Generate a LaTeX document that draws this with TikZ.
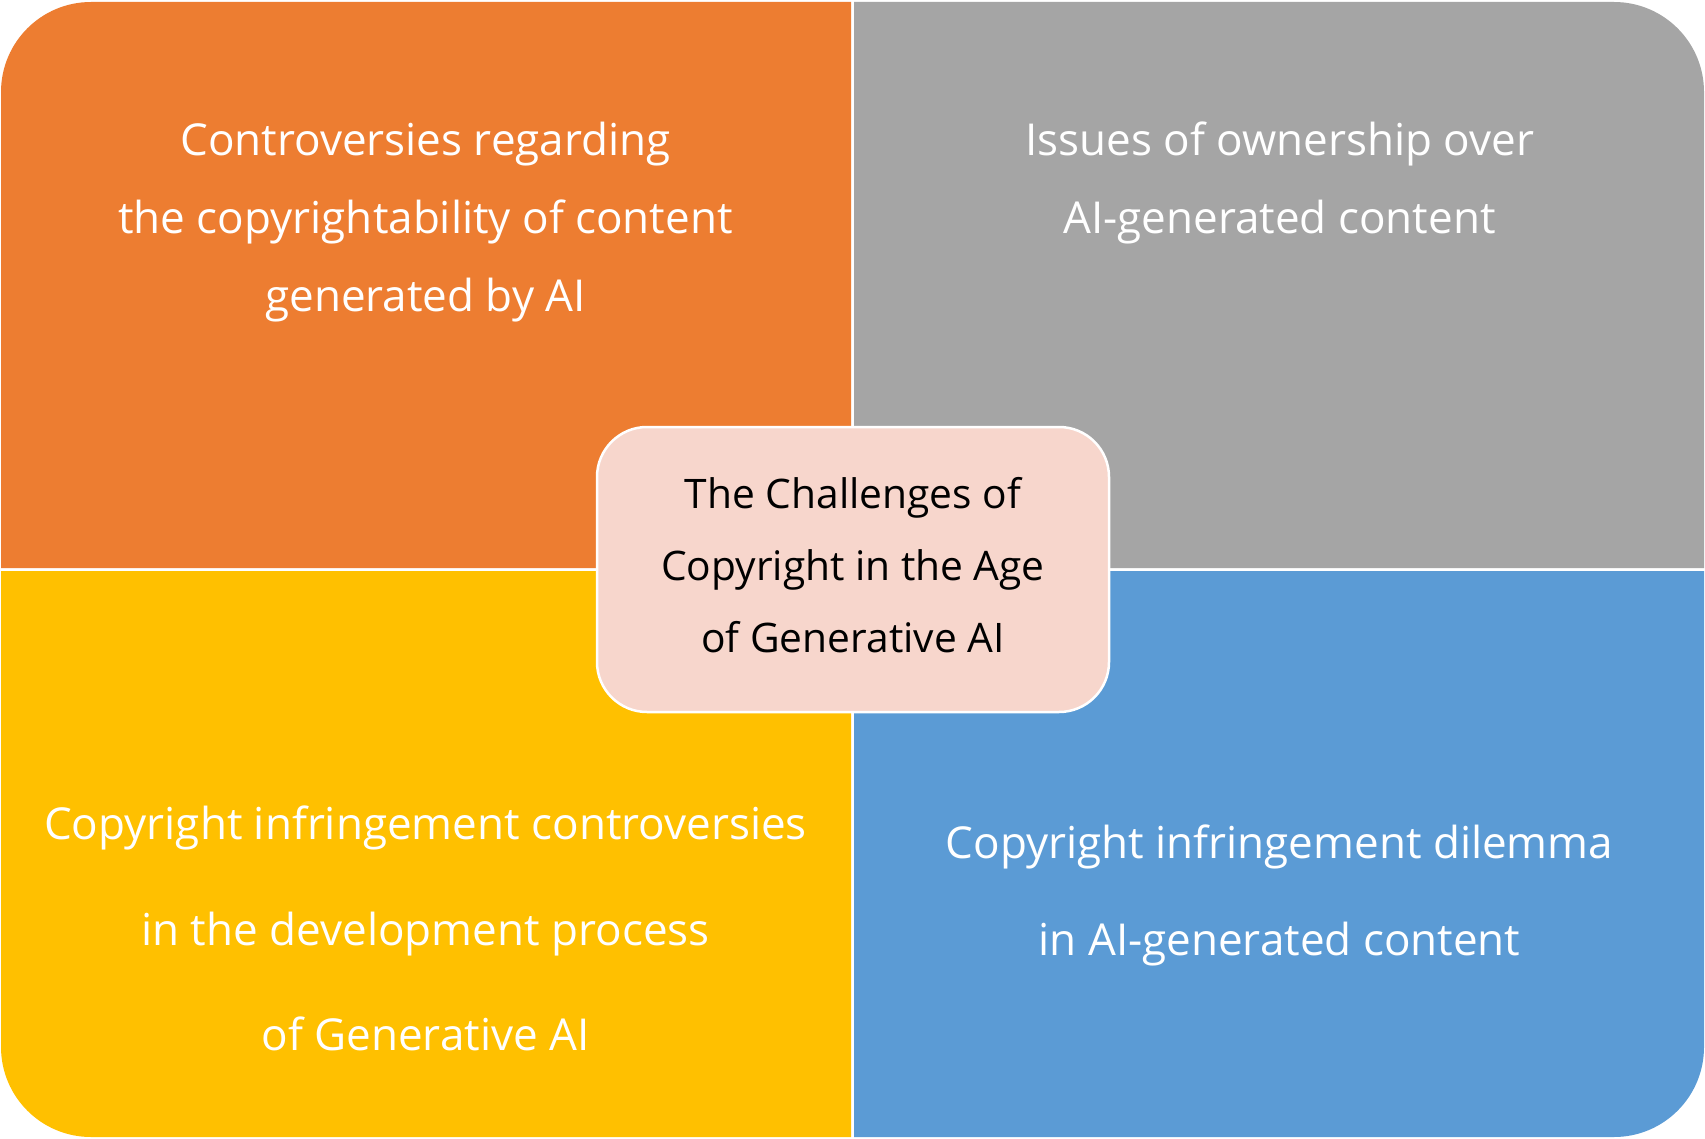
\documentclass[tikz,border=0pt]{standalone}
\usepackage{fontspec}
\setmainfont{Open Sans}
\definecolor{qorange}{HTML}{ED7D31}
\definecolor{qgray}{HTML}{A5A5A5}
\definecolor{qyellow}{HTML}{FFC000}
\definecolor{qblue}{HTML}{5B9BD5}
\definecolor{qpink}{HTML}{F7D6CC}
\tikzset{
  outertext/.style={text=white, align=center, font=\fontsize{44}{78}\selectfont},
  centerbox/.style={draw=white, line width=2.5pt, fill=qpink, rounded corners=50pt,
    minimum width=512pt, minimum height=285pt},
  centertext/.style={text=black, align=center, font=\fontsize{40.7}{72}\selectfont},
}
\begin{document}
\begin{tikzpicture}[x=1pt,y=-1pt]
\useasboundingbox[fill=white] (0,0) rectangle (1705,1139);
% quadrants
\fill[qorange] (1,568) -- (1,92) arc[start angle=180,end angle=270,radius=90] -- (851,2) -- (851,568) -- cycle;
\fill[qgray] (854,2) -- (1614,2) arc[start angle=270,end angle=360,radius=90] -- (1704,568) -- (854,568) -- cycle;
\fill[qblue] (854,571) -- (1704,571) -- (1704,1047) arc[start angle=0,end angle=90,radius=90] -- (854,1137) -- cycle;
\fill[qyellow] (851,571) -- (851,1137) -- (91,1137) arc[start angle=90,end angle=180,radius=90] -- (1,571) -- cycle;
% texts
\node[outertext] (tl) at (425.5,222) {Controversies regarding\\the copyrightability of content\\generated by AI};
\node[outertext] (tr) at (1279.5,182.5) {Issues of ownership over\\AI-generated content};
\node[outertext, font=\fontsize{44}{105.5}\selectfont] (bl) at (425.5,928.6) {Copyright infringement controversies\\in the development process\\of Generative AI};
\node[outertext, font=\fontsize{44}{97}\selectfont] (br) at (1279.5,895.5) {Copyright infringement dilemma\\in AI-generated content};
\node[centerbox] (center) at (853,569.5) {};
\node[centertext] (title) at (853,565) {The Challenges of\\Copyright in the Age\\of Generative AI};
\end{tikzpicture}
\end{document}
